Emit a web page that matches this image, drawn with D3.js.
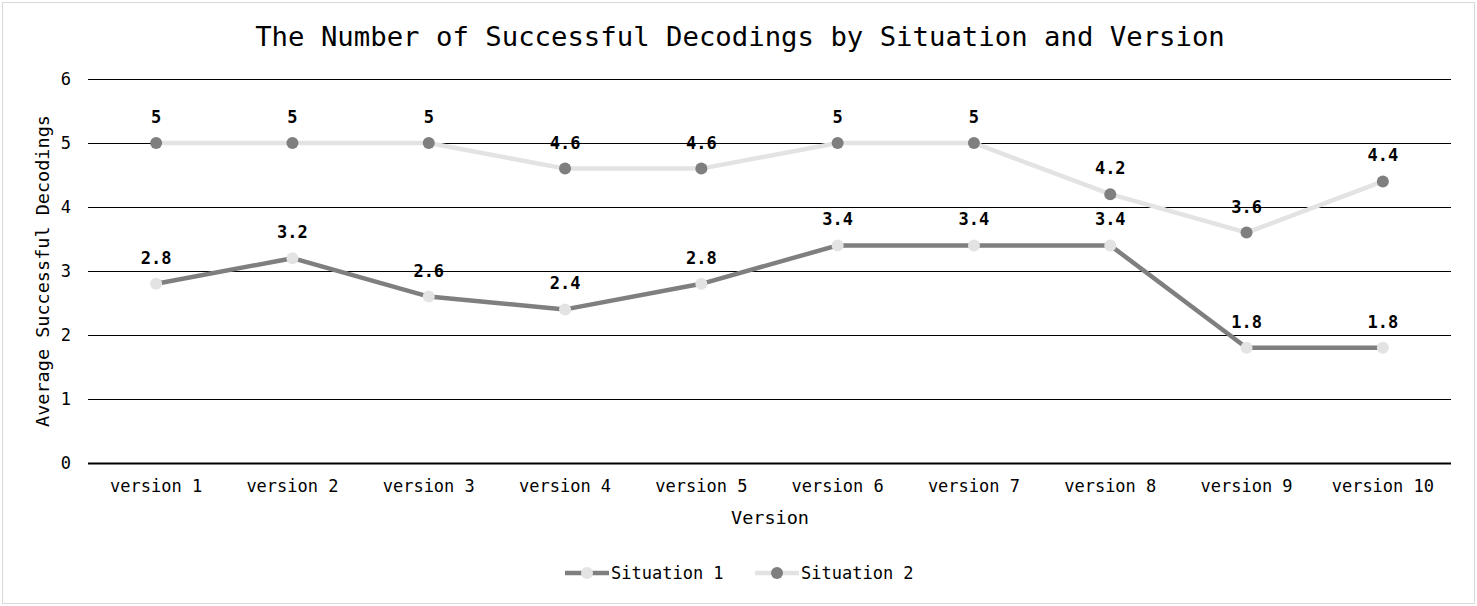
<!DOCTYPE html>
<html>
<head>
<meta charset="utf-8">
<script src="https://cdn.jsdelivr.net/npm/d3@7"></script>
<style>
    body { margin: 0; background: #fff; }
    svg text { font-family: "DejaVu Sans Mono", "Liberation Mono", monospace; fill: #000; }
</style>
</head>
<body>
<div id="chart"></div>
<script>
// Data.
var versions = ['version 1', 'version 2', 'version 3', 'version 4', 'version 5',
    'version 6', 'version 7', 'version 8', 'version 9', 'version 10'];
var situation1 = [2.8, 3.2, 2.6, 2.4, 2.8, 3.4, 3.4, 3.4, 1.8, 1.8];
var situation2 = [5, 5, 5, 4.6, 4.6, 5, 5, 4.2, 3.6, 4.4];
var yTicks = [0, 1, 2, 3, 4, 5, 6];

var series = [
    { name: 'Situation 1', values: situation1, line: '#7f7f7f', marker: '#e3e3e3' },
    { name: 'Situation 2', values: situation2, line: '#e3e3e3', marker: '#7f7f7f' }
];

var width = 1477, height = 606;
var margin = { top: 79, right: 26, bottom: 143, left: 88 };

var svg = d3.select('#chart').append('svg')
    .attr('width', width)
    .attr('height', height);

// Chart border.
svg.append('rect')
    .attr('x', 2.5).attr('y', 2.5)
    .attr('width', width - 5).attr('height', height - 5)
    .attr('fill', '#fff')
    .attr('stroke', '#d9d9d9');

var x = d3.scaleBand()
    .domain(versions)
    .range([margin.left, width - margin.right]);

var y = d3.scaleLinear()
    .domain([0, 6])
    .range([height - margin.bottom, margin.top]);

// Gridlines.
svg.append('g')
    .selectAll('line')
    .data(yTicks)
    .enter()
    .append('line')
    .attr('x1', margin.left)
    .attr('x2', width - margin.right)
    .attr('y1', function(d) { return Math.round(y(d)) + 0.5; })
    .attr('y2', function(d) { return Math.round(y(d)) + 0.5; })
    .attr('stroke', '#000')
    .attr('stroke-width', function(d) { return d === 0 ? 2 : 1; });

// Y axis labels.
var yAxis = svg.append('g')
    .attr('transform', 'translate(' + (margin.left - 17) + ',0)')
    .call(d3.axisLeft(y).tickValues(yTicks).tickFormat(d3.format('d')).tickSize(0).tickPadding(0));
yAxis.select('.domain').remove();
yAxis.selectAll('text')
    .style('font-family', '"DejaVu Sans Mono", monospace')
    .style('font-size', '17px')
    .attr('fill', '#000');

// X axis labels.
var xAxis = svg.append('g')
    .attr('transform', 'translate(0,' + (height - margin.bottom) + ')')
    .call(d3.axisBottom(x).tickSize(0).tickPadding(17));
xAxis.select('.domain').remove();
xAxis.selectAll('text')
    .style('font-family', '"DejaVu Sans Mono", monospace')
    .style('font-size', '17px')
    .attr('fill', '#000');

// Title and axis titles.
svg.append('text')
    .attr('x', 740).attr('y', 46)
    .attr('text-anchor', 'middle')
    .style('font-size', '27.3px')
    .text('The Number of Successful Decodings by Situation and Version');

svg.append('text')
    .attr('x', 770).attr('y', 524)
    .attr('text-anchor', 'middle')
    .style('font-size', '18.5px')
    .text('Version');

svg.append('text')
    .attr('transform', 'translate(49,271) rotate(-90)')
    .attr('text-anchor', 'middle')
    .style('font-size', '18.5px')
    .text('Average Successful Decodings');

var cx = function(d, i) { return x(versions[i]) + x.bandwidth() / 2; };

var line = d3.line()
    .x(function(d, i) { return cx(d, i); })
    .y(function(d) { return y(d); });

series.forEach(function(s) {
    var g = svg.append('g');

    g.append('path')
        .datum(s.values)
        .attr('d', line)
        .attr('fill', 'none')
        .attr('stroke', s.line)
        .attr('stroke-width', 4.5)
        .attr('stroke-linejoin', 'round');

    g.selectAll('circle')
        .data(s.values)
        .enter()
        .append('circle')
        .attr('cx', cx)
        .attr('cy', function(d) { return y(d); })
        .attr('r', 6)
        .attr('fill', s.marker);

    g.selectAll('text')
        .data(s.values)
        .enter()
        .append('text')
        .attr('x', cx)
        .attr('y', function(d) { return y(d) - 20; })
        .attr('text-anchor', 'middle')
        .style('font-size', '17px')
        .style('font-weight', 'bold')
        .text(function(d) { return d; });
});

// Legend.
var legend = svg.append('g')
    .selectAll('g')
    .data(series)
    .enter()
    .append('g')
    .attr('transform', function(d, i) { return 'translate(' + (565 + i * 190) + ',573)'; });

legend.append('line')
    .attr('x1', 0).attr('x2', 44)
    .attr('stroke', function(d) { return d.line; })
    .attr('stroke-width', 4.5);

legend.append('circle')
    .attr('cx', 22)
    .attr('r', 6)
    .attr('fill', function(d) { return d.marker; });

legend.append('text')
    .attr('x', 46)
    .attr('dy', '0.35em')
    .style('font-size', '17px')
    .text(function(d) { return d.name; });
</script>
</body>
</html>
